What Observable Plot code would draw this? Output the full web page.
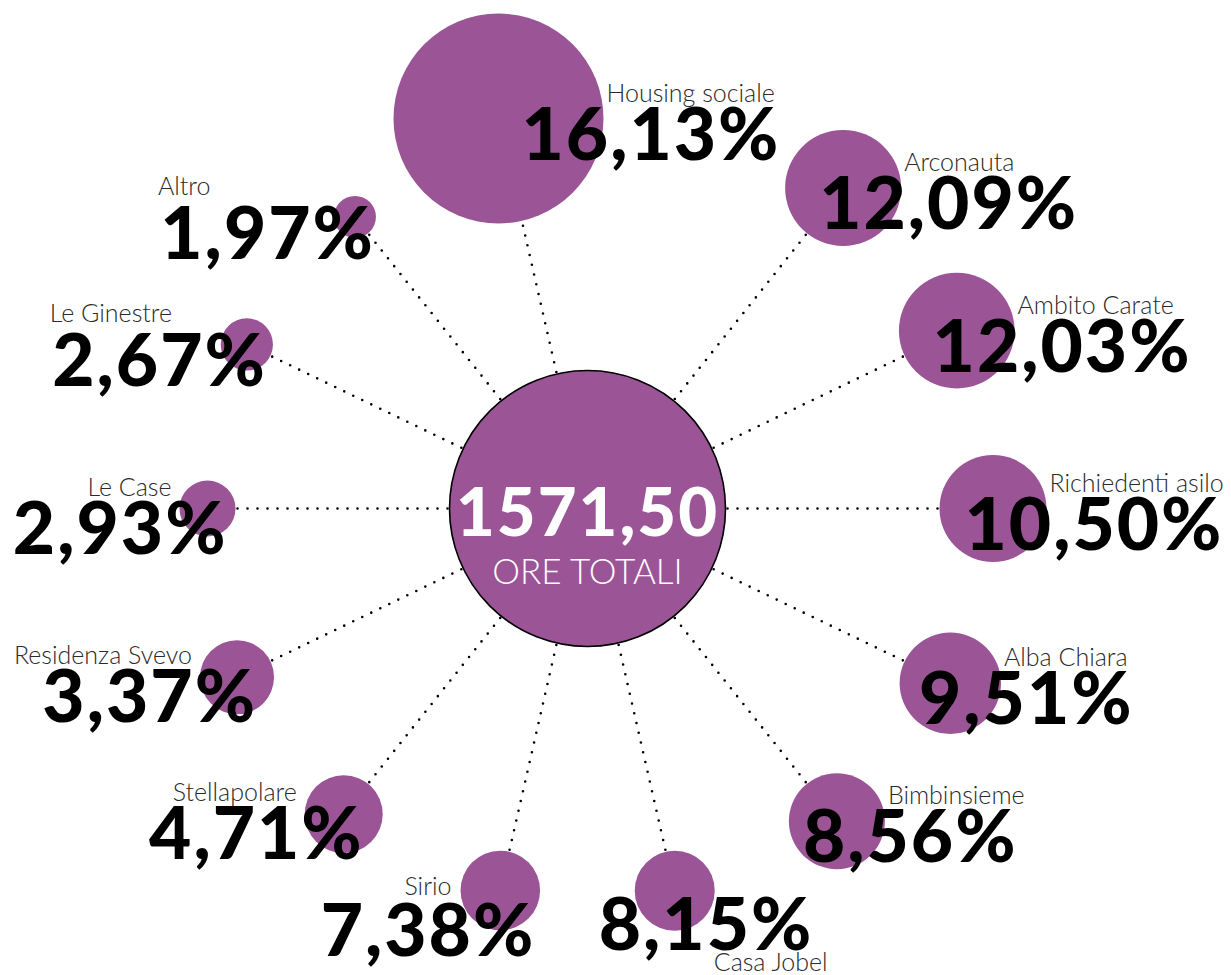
<!DOCTYPE html>
<html>
<head>
<meta charset="utf-8">
<script src="https://cdn.jsdelivr.net/npm/d3@7"></script>
<script src="https://cdn.jsdelivr.net/npm/@observablehq/plot@0.6"></script>
<style>
  html, body { margin: 0; padding: 0; background: #ffffff; }
  #chart svg { display: block; }
  #chart g[font-weight="900"] { letter-spacing: 2px; }
</style>
</head>
<body>
<div id="chart"></div>
<script>
// ---- data ----
const categories = ["Housing sociale", "Arconauta", "Ambito Carate", "Richiedenti asilo", "Alba Chiara",
  "Bimbinsieme", "Casa Jobel", "Sirio", "Stellapolare", "Residenza Svevo", "Le Case", "Le Ginestre", "Altro"];
const shares = [16.13, 12.09, 12.03, 10.50, 9.51, 8.56, 8.15, 7.38, 4.71, 3.37, 2.93, 2.67, 1.97];
const totalHours = 1571.50;
const totalLabel = "ORE TOTALI";

// ---- scale options (bubble radius, px) ----
const rDomain = [1.97, 2.93, 3.37, 4.71, 8.15, 8.56, 12.09, 16.13];
const rRange  = [21,   28,   37,   39,   40,   48,   58,    105];

// ---- layout ----
const W = 1231, H = 975;
const HUB_X = 587, HUB_Y = 508;   // hub position in the frame
const HUB_R = 138;
const SLOTS = 14, GAP = 352, TOP = 13;
const purple = "#9b5597";
const fmt = v => v.toFixed(2).replace(".", ",");
const rOf = d3.scaleLinear(rDomain, rRange);

const rows = categories.map((name, i) => {
  const value = shares[i];
  const slot = (10 + i + (i > 0 ? 1 : 0)) % SLOTS;
  const a = slot * 2 * Math.PI / SLOTS;
  const r = rOf(value);
  let d = GAP + r;
  if (d * Math.sin(a) - r < TOP - HUB_Y) d = (HUB_Y - TOP - r) / -Math.sin(a);
  const x = d * Math.cos(a), y = d * Math.sin(a);
  let nx, ny, na, px, py, pa;
  if (slot === 3) {            // bottom right
    pa = "start"; px = x - r - 36; py = y + 59;
    na = "start"; nx = x + r - 1;  ny = y + 80;
  } else if (slot === 4) {     // bottom left
    na = "end"; nx = x - r - 9; ny = y + 5;
    pa = "end"; px = x + 35;    py = y + 66;
  } else if (slot >= 5 && slot <= 7) {
    na = "end"; nx = x - r - 8; ny = y - 13;
    pa = "end"; px = x + 20;    py = y + 45;
  } else if (slot === 8 || slot === 9) {
    na = "start"; nx = x - 197; ny = y - 22;
    pa = "end";   px = x + 20;  py = y + 42;
  } else {                     // right side and top
    na = "start"; nx = x + r + 3;  ny = y - 17;
    pa = "start"; px = x + r - 82; py = y + 41;
  }
  return {name, value, pct: fmt(value) + "%", x, y, nx, ny, na, px, py, pa};
});

const nameStyle = {text: "name", lineAnchor: "bottom", fontFamily: "Lato", fontWeight: 300, fontSize: 25, fill: "#2a2a2a"};
const pctStyle = {text: "pct", lineAnchor: "bottom", fontFamily: "Lato", fontWeight: 900, fontSize: 73, fill: "#000000"};

const chart = Plot.plot({
  width: W, height: H, margin: 0,
  x: {domain: [-HUB_X, W - HUB_X], range: [0, W], axis: null},
  y: {domain: [-HUB_Y, H - HUB_Y], range: [0, H], axis: null},
  r: {type: "linear", domain: rDomain, range: rRange},
  style: {background: "#ffffff", overflow: "visible"},
  marks: [
    Plot.link(rows, {x1: 0, y1: 0, x2: "x", y2: "y", stroke: "#000", strokeWidth: 2.6,
      strokeDasharray: "0 10", strokeLinecap: "round"}),
    Plot.dot(rows, {x: "x", y: "y", r: "value", fill: purple, stroke: "none"}),
    Plot.dot([0], {x: 0, y: 0, r: HUB_R, fill: purple, stroke: "#000", strokeWidth: 1.6}),
    Plot.text(rows.filter(d => d.na === "start"), {x: "nx", y: "ny", textAnchor: "start", ...nameStyle}),
    Plot.text(rows.filter(d => d.na === "end"), {x: "nx", y: "ny", textAnchor: "end", ...nameStyle}),
    Plot.text(rows.filter(d => d.pa === "start"), {x: "px", y: "py", textAnchor: "start", ...pctStyle}),
    Plot.text(rows.filter(d => d.pa === "end"), {x: "px", y: "py", textAnchor: "end", ...pctStyle}),
    Plot.text([fmt(totalHours)], {x: 0, y: 0, dy: 27, text: d => d, textAnchor: "middle", lineAnchor: "bottom",
      fontFamily: "Lato", fontWeight: 900, fontSize: 67, fill: "#ffffff"}),
    Plot.text([totalLabel], {x: 0, y: 0, dy: 75, text: d => d, textAnchor: "middle", lineAnchor: "bottom",
      fontFamily: "Lato", fontWeight: 300, fontSize: 35, fill: "#ffffff"})
  ]
});
document.getElementById("chart").append(chart);
</script>
</body>
</html>
